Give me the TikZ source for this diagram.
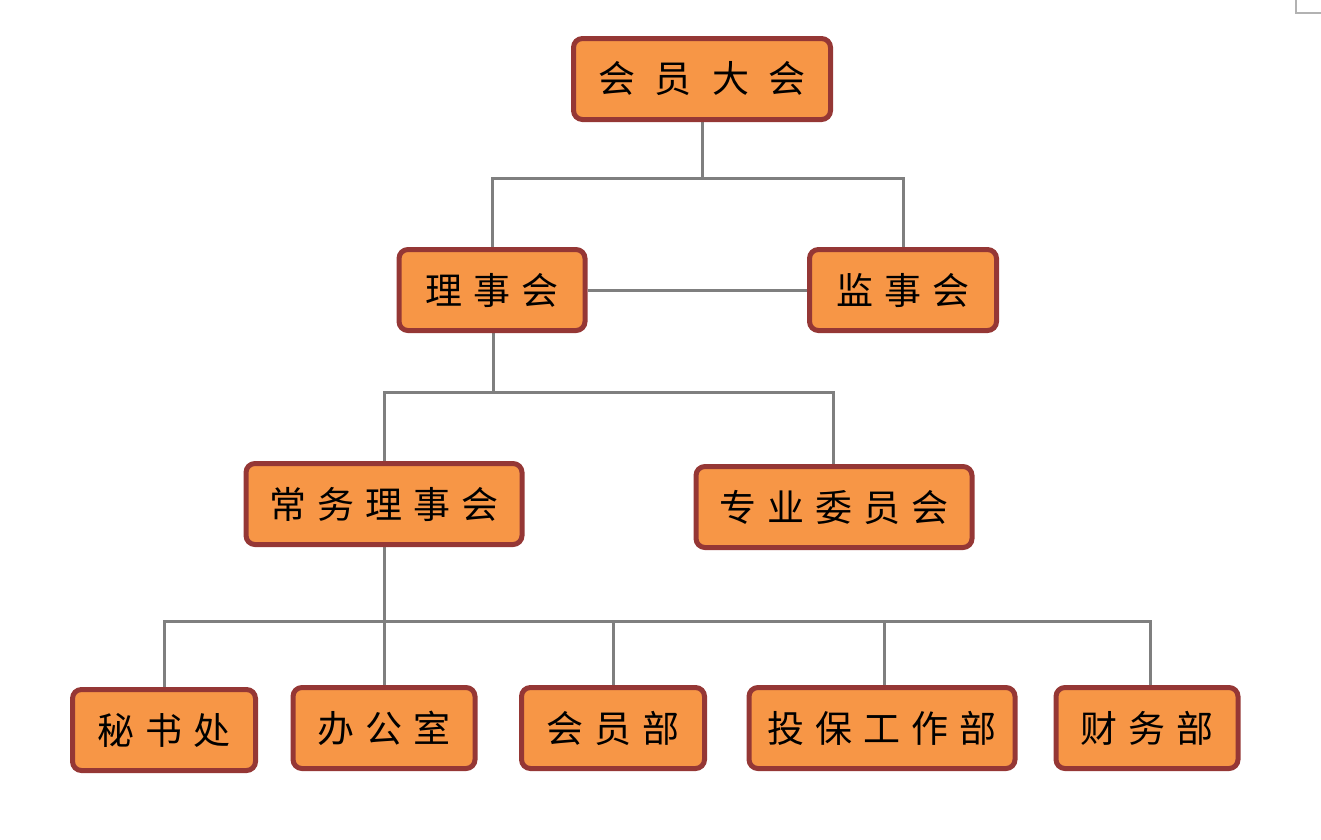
\documentclass[tikz,border=0pt]{standalone}
\usepackage{fontspec}
\newfontfamily\cjk{Noto Sans CJK SC}
\usetikzlibrary{backgrounds}
\newcommand\gp{\hspace{11pt}}
\newcommand\gpw{\hspace{20pt}}
\definecolor{boxfill}{HTML}{F79646}
\definecolor{boxline}{HTML}{953735}
\definecolor{conn}{HTML}{7F7F7F}
\tikzset{
  org/.style={draw=boxline, fill=boxfill, line width=5pt, rounded corners=9pt,
    inner sep=0pt, minimum height=81pt, font=\cjk\fontsize{37}{40}\selectfont, text=black},
  link/.style={draw=conn, line width=3pt},
}
\begin{document}
\begin{tikzpicture}[x=1pt,y=-1pt]
\useasboundingbox (0,0) rectangle (1321,839);
\node[org, minimum width=257pt] (top) at (702,79) {会\gpw 员\gpw 大\gpw 会};
\node[org, minimum width=186pt] (ls) at (492,290) {理\gp 事\gp 会};
\node[org, minimum width=187pt] (js) at (903,290) {监\gp 事\gp 会};
\node[org, minimum width=276pt] (cw) at (384,504) {常\gp 务\gp 理\gp 事\gp 会};
\node[org, minimum width=276pt] (zy) at (834,507) {专\gp 业\gp 委\gp 员\gp 会};
\node[org, minimum width=183pt] (ms) at (164,730) {秘\gp 书\gp 处};
\node[org, minimum width=182pt] (bg) at (384,728) {办\gp 公\gp 室};
\node[org, minimum width=183pt] (hy) at (613,728) {会\gp 员\gp 部};
\node[org, minimum width=266pt] (tb) at (882,728) {投\gp 保\gp 工\gp 作\gp 部};
\node[org, minimum width=182pt] (cf) at (1147,728) {财\gp 务\gp 部};
\coordinate (j1) at (702,178);
\coordinate (j2) at (493,392);
\coordinate (j3) at (384,621);
\begin{scope}[on background layer]
\draw[link] (top.south) -- (j1);
\draw[link] (ls.north) |- (j1) -| (js.north);
\draw[link] (ls.east) -- (js.west);
\draw[link] (ls.south -| j2) -- (j2);
\draw[link] (cw.north) |- (j2) -| (zy.north -| 833,0);
\draw[link] (cw.south) -- (j3);
\draw[link] (ms.north) |- (j3) -| (cf.north -| 1150,0);
\draw[link] (bg.north) -- (j3);
\draw[link] (hy.north) -- (hy.north |- j3);
\draw[link] (tb.north -| 884,0) -- (884,621);
\end{scope}
\draw[gray!60, line width=1.5pt] (1296,0) -- (1296,13) -- (1321,13);
\end{tikzpicture}
\end{document}
